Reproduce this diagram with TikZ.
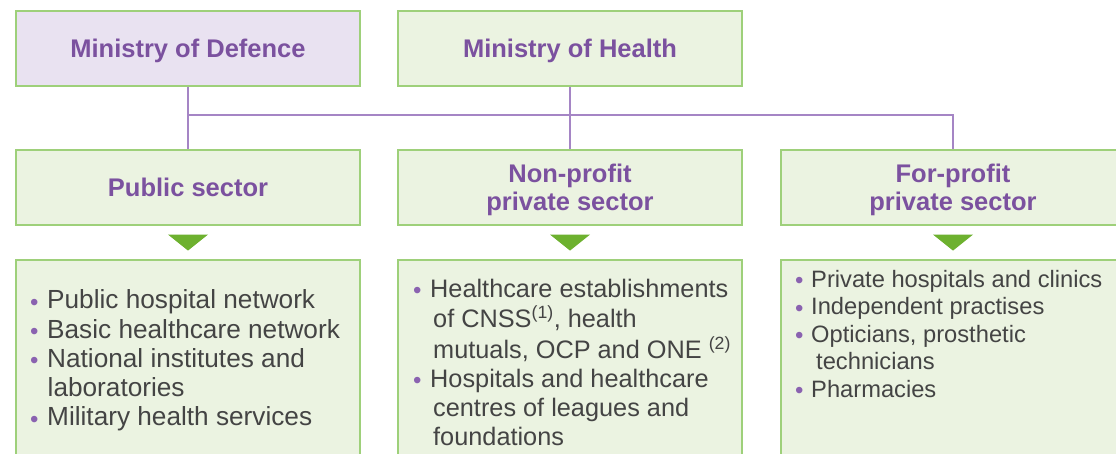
\documentclass[tikz,border=0pt]{standalone}
\usepackage{fontspec}
\setmainfont{Liberation Sans}
\usetikzlibrary{calc}
\definecolor{hdrpurple}{HTML}{7B519F}
\definecolor{linepurple}{HTML}{A585C5}
\definecolor{boxgreen}{HTML}{EBF3E1}
\definecolor{boxlav}{HTML}{E9E2F1}
\definecolor{edgegreen}{HTML}{9ED07A}
\definecolor{trigreen}{HTML}{6DB12F}
\definecolor{bodygray}{HTML}{444444}
\definecolor{bulpurple}{HTML}{8A62B0}
\newcommand{\bul}[1]{\makebox[#1][l]{\hspace{-0.5bp}\textcolor{bulpurple}{\fontsize{24bp}{24bp}\selectfont\raisebox{-1.4bp}{•}}}}
\begin{document}
\begin{tikzpicture}[x=1bp,y=-1bp,
  box/.style={draw=edgegreen, line width=1.2bp, fill=boxgreen, minimum width=344bp,
    minimum height=75bp, inner sep=0pt, text=hdrpurple,
    font=\fontsize{25.5bp}{28bp}\selectfont\bfseries, align=center},
  oneline/.style={text height=18bp, text depth=0bp},
  conn/.style={draw=linepurple, line width=1.3bp},
  tri/.style={fill=trigreen},
  listbox/.style={anchor=north west, inner sep=0pt, text=bodygray},
  pubfont/.style={font=\fontsize{26.2bp}{29.2bp}\selectfont},
  nppfont/.style={font=\fontsize{25.3bp}{29.2bp}\selectfont},
  fppfont/.style={font=\fontsize{23.7bp}{27.5bp}\selectfont}]
\useasboundingbox (0,0) rectangle (1116,454);
\clip (0,0) rectangle (1116,454);

% top boxes
\node[box, oneline, fill=boxlav] (mod) at (188,48.5) {Ministry of Defence};
\node[box, oneline] (moh) at (570,48.5) {Ministry of Health};
% sector boxes
\node[box, oneline] (pub) at (188,187.5) {Public sector};
\node[box] (npp) at (570,187.5) {\rule{0pt}{22.6bp}Non-profit\\private sector};
\node[box] (fpp) at (953,187.5) {\rule{0pt}{22.6bp}For-profit\\private sector};
% list boxes
\node[box, minimum height=240bp] (publ) at (188,380) {};
\node[box, minimum height=240bp] (nppl) at (570,380) {};
\node[box, minimum height=240bp] (fppl) at (953,380) {};

% connectors
\coordinate (junc) at (188,115);
\draw[conn] (mod.south) -- (pub.north);
\draw[conn] (moh.south) -- (npp.north);
\draw[conn] (junc) -| (fpp.north);

% triangles
\foreach \n in {pub,npp,fpp}
  \fill[tri] ($(\n.south)+(-20,9)$) -- ($(\n.south)+(20,9)$) -- ($(\n.south)+(0,25)$) -- cycle;

% lists
\node[listbox, pubfont] (pubtxt) at (30.5,288.3) {\begin{tabular}{@{}l@{}}
\bul{16.5bp}Public hospital network\\
\bul{16.5bp}Basic healthcare network\\
\bul{16.5bp}National institutes and\\
\hspace{17bp}laboratories\\
\bul{16.5bp}Military health services
\end{tabular}};

\node[listbox, nppfont] (npptxt) at (413.5,276.4) {\begin{tabular}{@{}l@{}}
\bul{16.5bp}Healthcare establishments\\
\hspace{19.5bp}of CNSS\textsuperscript{(1)}, health\\
\hspace{19.5bp}mutuals, OCP and ONE \textsuperscript{(2)}\\
\bul{16.5bp}Hospitals and healthcare\\
\hspace{19.5bp}centres of leagues and\\
\hspace{19.5bp}foundations
\end{tabular}};

\node[listbox, fppfont] (fpptxt) at (795.5,267.8) {\begin{tabular}{@{}l@{}}
\bul{15.5bp}Private hospitals and clinics\\
\bul{15.5bp}Independent practises\\
\bul{15.5bp}Opticians, prosthetic\\
\hspace{20.5bp}technicians\\
\bul{15.5bp}Pharmacies
\end{tabular}};
\end{tikzpicture}
\end{document}
